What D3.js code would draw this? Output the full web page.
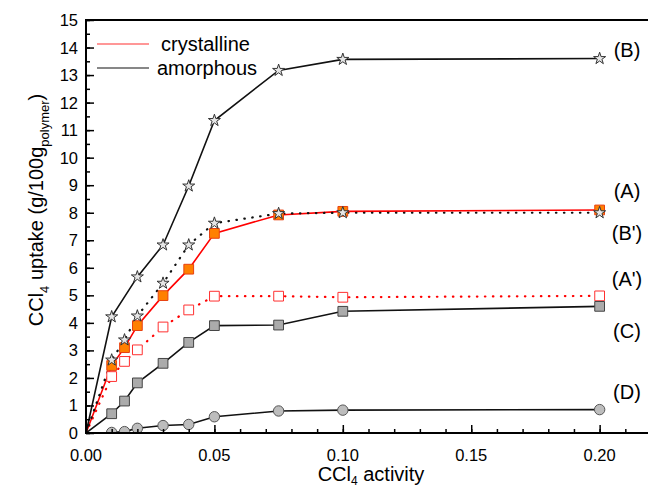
<!DOCTYPE html>
<html>
<head>
<meta charset="utf-8">
<script src="https://cdn.jsdelivr.net/npm/d3@7"></script>
<style>
  body { margin: 0; background: #fff; }
  text { font-family: Arial, "Liberation Sans", sans-serif; fill: #000; }
</style>
</head>
<body>
<div id="chart"></div>
<script>
// CCl4 activity values (x)
var activity = [0, 0.01, 0.015, 0.02, 0.03, 0.04, 0.05, 0.075, 0.1, 0.2]
var activityB = [0, 0.01, 0.02, 0.03, 0.04, 0.05, 0.075, 0.1, 0.2]
var activityD = [0.01, 0.015, 0.02, 0.03, 0.04, 0.05, 0.075, 0.1, 0.2]

// uptake values (g/100g polymer)
var uptakeB = [0, 4.22, 5.67, 6.83, 8.97, 11.35, 13.17, 13.57, 13.6]
var uptakeB2 = [0, 2.65, 3.38, 4.25, 5.44, 6.83, 7.62, 7.97, 8.0, 8.0]
var uptakeA = [0, 2.45, 3.1, 3.9, 4.99, 5.95, 7.25, 7.92, 8.05, 8.1]
var uptakeA2 = [0, 2.05, 2.6, 3.02, 3.85, 4.47, 4.97, 4.97, 4.93, 4.98]
var uptakeC = [0, 0.7, 1.16, 1.82, 2.53, 3.29, 3.9, 3.92, 4.42, 4.6]
var uptakeD = [0.02, 0.05, 0.17, 0.27, 0.31, 0.59, 0.8, 0.83, 0.85]

var xTicks = [0, 0.05, 0.1, 0.15, 0.2]
var yTicks = d3.range(0, 16)
var labels = ["(B)", "(A)", "(B')", "(A')", "(C)", "(D)"]
var labelY = [13.9, 8.8, 7.25, 5.6, 3.7, 1.5]
var legendNames = ["crystalline", "amorphous"]

const W = 648, H = 488
const margin = {top: 20, left: 86, bottom: 433, right: 651}

var svg = d3.select("#chart").append("svg")
    .attr("width", W).attr("height", H)

var x = d3.scaleLinear().domain([0, 0.22]).range([margin.left, margin.right])
var y = d3.scaleLinear().domain([0, 15]).range([margin.bottom, margin.top])

svg.append("clipPath").attr("id", "plot")
    .append("rect")
    .attr("x", margin.left).attr("y", margin.top)
    .attr("width", margin.right - margin.left)
    .attr("height", margin.bottom - margin.top)

var series = [
    {xs: activity, ys: uptakeA, color: "red", dash: null, marker: "sq", fill: "#ff8000", stroke: "#e84010"},
    {xs: activity, ys: uptakeA2, color: "red", dash: "0.5,7.5", marker: "sq", fill: "#fff", stroke: "#ff3030"},
    {xs: activity, ys: uptakeC, color: "#111", dash: null, marker: "sq", fill: "#ababab", stroke: "#444"},
    {xs: activityD, ys: uptakeD, color: "#111", dash: null, marker: "circle", fill: "#bdbdbd", stroke: "#555"},
    {xs: activityB, ys: uptakeB, color: "#111", dash: null, marker: "star", fill: "#e6e6e6", stroke: "#333"},
    {xs: activity, ys: uptakeB2, color: "#111", dash: "0.5,7.5", marker: "star", fill: "#e6e6e6", stroke: "#333"}
]

var plot = svg.append("g").attr("clip-path", "url(#plot)")
var line = d3.line().x(d => x(d[0])).y(d => y(d[1]))

series.forEach(s => {
    var pts = s.xs.map((v, i) => [v, s.ys[i]])
    plot.append("path")
        .attr("d", line(pts))
        .attr("fill", "none")
        .attr("stroke", s.color)
        .attr("stroke-width", s.dash ? 2.2 : 1.6)
        .attr("stroke-dasharray", s.dash)
        .attr("stroke-linecap", s.dash ? "round" : "butt")
})

series.forEach(s => {
    var pts = s.xs.map((v, i) => [v, s.ys[i]]).filter(d => d[0] > 0)
    var sym = s.marker == "star" ? d3.symbolStar : (s.marker == "circle" ? d3.symbolCircle : d3.symbolSquare)
    var size = s.marker == "star" ? 45 : (s.marker == "circle" ? 85 : 95)
    plot.append("g").selectAll("path")
        .data(pts)
        .join("path")
        .attr("transform", d => `translate(${x(d[0])},${y(d[1])})`)
        .attr("d", d3.symbol().type(sym).size(size))
        .attr("fill", s.fill)
        .attr("stroke", s.stroke)
        .attr("stroke-width", 1)
})

// axes (ticks inward)
var xAxis = svg.append("g").attr("transform", `translate(0,${margin.bottom})`)
xAxis.call(d3.axisBottom(x).tickValues(d3.range(0, 0.221, 0.01)).tickSize(-4).tickFormat(""))
xAxis.append("g").call(d3.axisBottom(x).tickValues(xTicks).tickSize(-8).tickFormat(""))
xAxis.selectAll("path.domain").remove()
xAxis.selectAll("line").attr("stroke", "#000").attr("stroke-width", 1.5)
svg.append("g").selectAll("text")
    .data(xTicks)
    .join("text")
    .attr("x", d => x(d))
    .attr("y", 461)
    .attr("text-anchor", "middle")
    .attr("font-size", 16.5)
    .text(d => d3.format(".2f")(d))

var yAxis = svg.append("g").attr("transform", `translate(${margin.left},0)`)
yAxis.call(d3.axisLeft(y).tickValues(d3.range(0, 15.01, 0.5)).tickSize(-4).tickFormat(""))
yAxis.append("g").call(d3.axisLeft(y).tickValues(yTicks).tickSize(-8).tickFormat(""))
yAxis.selectAll("path.domain").remove()
yAxis.selectAll("line").attr("stroke", "#000").attr("stroke-width", 1.5)
svg.append("g").selectAll("text")
    .data(yTicks)
    .join("text")
    .attr("x", 78)
    .attr("y", d => y(d) + 6)
    .attr("text-anchor", "end")
    .attr("font-size", 16.5)
    .text(d => d)

// frame
svg.append("path")
    .attr("d", `M${W},${margin.top}H${margin.left}V${margin.bottom}H${W}`)
    .attr("fill", "none")
    .attr("stroke", "#000")
    .attr("stroke-width", 2)

// axis titles
var xt = svg.append("text").attr("x", 371).attr("y", 481)
    .attr("text-anchor", "middle").attr("font-size", 20)
xt.append("tspan").text("CCl")
xt.append("tspan").attr("dy", 4).attr("font-size", 12).text("4")
xt.append("tspan").attr("dy", -4).text(" activity")

var yt = svg.append("text")
    .attr("transform", "translate(43,210) rotate(-90)")
    .attr("text-anchor", "middle").attr("font-size", 20)
yt.append("tspan").text("CCl")
yt.append("tspan").attr("dy", 6).attr("font-size", 13).text("4")
yt.append("tspan").attr("dy", -6).text(" uptake (g/100g")
yt.append("tspan").attr("dy", 6).attr("font-size", 13).text("polymer")
yt.append("tspan").attr("dy", -6).text(")")

// curve labels
svg.append("g").selectAll("text")
    .data(labels)
    .join("text")
    .attr("x", 627)
    .attr("y", (d, i) => y(labelY[i]) + 7)
    .attr("text-anchor", "middle")
    .attr("font-size", 20)
    .text(d => d)

// legend
var leg = svg.append("g")
var legColors = ["#ff3030", "#111"]
legendNames.forEach((n, i) => {
    var ly = 44 + i * 24
    leg.append("line")
        .attr("x1", 97).attr("x2", 149)
        .attr("y1", ly).attr("y2", ly)
        .attr("stroke", legColors[i]).attr("stroke-width", 1.2)
    leg.append("text")
        .attr("x", i == 0 ? 161 : 157).attr("y", ly + 7)
        .attr("font-size", 20)
        .text(n)
})
</script>
</body>
</html>
